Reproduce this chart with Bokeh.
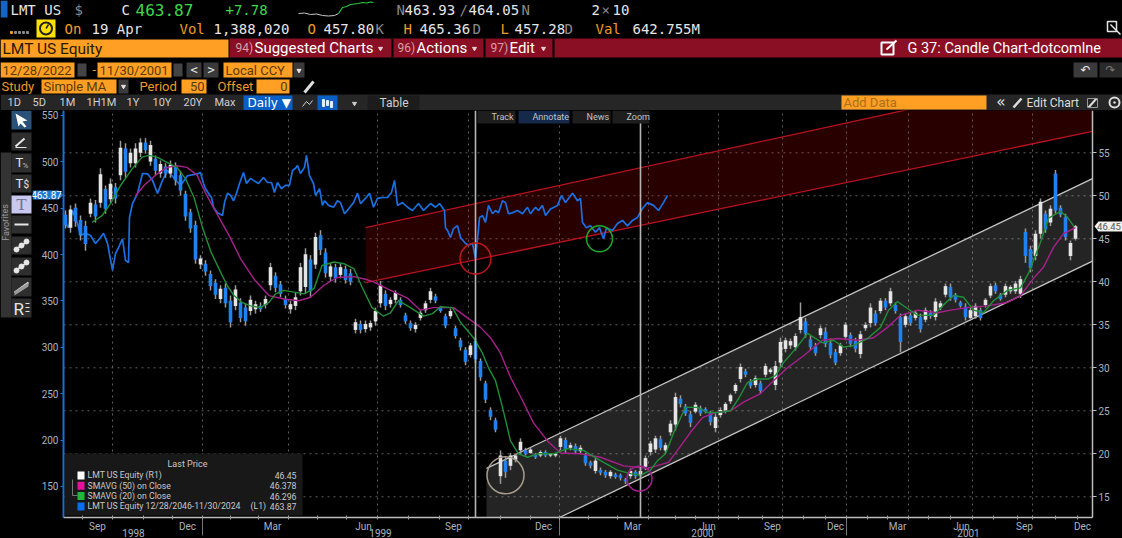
import numpy as np
from bokeh.plotting import figure
from bokeh.layouts import column, row
from bokeh.models import Range1d, LinearAxis, FixedTicker
from bokeh.core.properties import value
from bokeh.embed import file_html
from bokeh.resources import INLINE

# ---------- data ----------
highs = [48.3,48.9,49.1,47.7,47.1,49.7,49.5,53.2,51.2,52.0,
51.5,56.4,56.1,55.5,56.1,56.7,56.7,56.4,54.7,54.1,
53.8,54.1,53.9,52.9,50.6,48.5,47.1,43.1,42.5,41.3,
40.3,39.6,39.8,38.4,39.6,38.1,37.5,38.4,37.8,37.6,
38.4,42.2,41.1,40.1,38.4,37.8,38.7,42.2,43.9,43.1,
45.7,46.0,43.9,42.2,42.1,42.1,41.9,41.5,35.7,35.5,
35.5,35.5,37.0,40.1,39.0,38.2,39.0,38.2,36.4,35.5,
35.3,36.7,37.8,39.3,38.6,37.2,36.3,36.9,34.9,33.5,
32.4,32.9,33.5,31.1,28.5,25.4,24.2,20.4,19.6,20.1,
20.0,21.8,20.7,20.7,20.1,20.4,20.4,20.1,20.1,22.1,
21.9,21.3,21.2,21.0,20.1,19.2,19.5,18.4,18.1,18.1,
17.8,17.7,17.2,18.3,18.1,18.3,19.8,21.5,22.1,22.1,
21.3,23.9,27.1,26.8,25.8,25.0,26.0,25.6,25.4,25.0,
24.7,25.4,26.0,27.0,28.2,30.5,29.9,28.7,29.1,28.5,
30.5,30.0,30.8,33.5,33.5,33.4,34.0,37.6,35.8,33.7,
32.9,34.9,34.7,33.4,32.2,32.9,35.3,34.1,33.5,34.3,
35.3,37.5,36.7,38.1,38.1,39.3,37.6,36.3,36.3,36.4,
36.7,36.3,37.0,36.7,38.1,37.8,39.8,39.8,38.7,37.8,
37.5,37.0,37.5,37.0,38.1,39.8,39.9,38.7,39.8,39.6,
40.1,40.7,46.2,44.2,46.0,49.7,48.3,48.9,53.0,48.9,
47.9,44.8,46.6]
lows = [46.2,45.7,46.4,44.8,43.6,47.5,46.9,48.6,47.9,49.1,
49.1,51.8,52.1,53.3,53.3,54.5,54.9,53.5,52.4,52.1,
52.1,52.1,51.2,50.0,47.1,45.7,42.1,41.5,40.7,39.0,
38.0,37.5,37.0,34.7,36.7,35.3,34.9,36.1,36.3,36.5,
36.9,39.0,38.8,38.2,36.9,36.3,36.7,38.4,38.6,38.2,
41.5,43.1,40.5,40.1,39.9,40.4,39.8,39.6,34.0,34.0,
34.1,34.3,34.9,37.0,36.7,37.0,37.5,37.0,35.1,34.3,
34.1,35.5,36.4,37.5,37.5,36.4,34.6,35.7,33.4,32.0,
30.3,31.2,30.5,28.5,25.9,23.9,22.5,16.5,17.2,18.1,
19.0,20.0,19.8,20.0,19.4,19.6,19.6,19.6,19.6,20.4,
20.1,20.4,20.0,20.0,18.6,18.3,17.7,17.5,17.2,17.1,
17.1,16.9,16.5,17.1,17.1,17.2,18.1,19.8,20.1,20.4,
20.1,22.1,22.7,25.4,24.4,23.1,24.7,24.4,24.7,23.3,
22.5,24.2,24.7,25.8,27.0,28.3,28.9,27.6,27.7,27.0,
28.9,29.3,27.4,30.0,31.8,32.2,32.0,34.0,33.5,32.0,
31.4,33.4,32.4,31.1,30.3,31.4,33.2,32.4,31.8,31.1,
34.3,34.7,34.9,36.3,36.7,37.2,36.3,31.8,34.7,34.9,
35.5,34.1,35.3,35.7,35.5,36.7,38.2,37.8,37.6,37.0,
35.5,35.5,35.7,35.5,37.0,38.1,38.6,37.8,38.2,38.6,
38.6,38.1,42.2,41.1,42.5,45.0,45.7,46.5,47.9,47.5,
44.8,42.5,44.8]
opens = [47.8,46.3,48.6,47.2,46.5,47.9,49.0,49.2,50.8,49.6,
51.0,52.4,55.5,53.8,53.8,55.0,56.2,54.0,54.3,52.6,
53.4,52.6,53.4,52.4,50.2,48.1,46.6,42.0,42.1,40.9,
39.9,38.0,39.3,37.8,37.2,37.6,37.0,36.6,36.8,37.2,
37.3,39.6,40.7,39.7,38.0,36.8,37.2,38.9,39.4,42.6,
42.0,45.4,43.4,40.6,41.7,40.8,41.5,41.0,34.4,35.1,
34.5,34.7,35.4,37.5,38.6,37.4,37.9,37.9,36.1,35.2,
34.5,35.8,36.7,37.9,38.3,37.0,36.0,36.0,34.6,33.2,
32.1,31.5,33.1,30.8,28.2,25.1,23.9,17.4,19.2,18.6,
19.3,20.4,20.4,20.1,19.9,19.8,20.2,19.8,19.8,20.8,
21.6,20.7,20.9,20.3,19.8,19.0,18.0,18.1,17.9,17.4,
17.6,17.5,17.0,17.4,17.9,17.5,18.5,20.2,20.5,21.7,
20.4,22.5,23.4,26.4,25.5,24.6,24.9,25.3,25.2,24.7,
23.0,24.5,25.0,26.1,27.3,28.7,29.6,28.4,28.0,28.2,
29.2,29.5,28.0,30.6,32.2,32.6,32.4,34.4,35.4,33.3,
32.5,33.8,34.2,32.9,31.8,31.7,33.6,33.8,33.1,31.6,
34.6,35.2,36.3,36.6,37.8,37.5,37.3,35.9,35.0,36.1,
35.8,35.9,35.6,36.4,35.9,37.0,38.5,39.4,38.5,37.6,
37.1,35.8,36.0,36.7,37.3,38.4,39.6,38.5,38.5,38.9,
38.9,38.6,45.8,43.8,43.0,45.6,47.9,46.9,52.6,48.6,
47.5,43.0,45.0]
closes = [46.6,48.4,47.0,45.4,44.4,49.2,47.6,52.5,48.5,51.4,
49.7,55.6,52.8,55.0,55.5,56.2,55.3,55.9,52.9,53.7,
52.6,53.6,51.8,50.6,47.6,46.2,42.6,42.7,41.2,39.5,
38.5,39.2,37.5,35.3,39.1,35.8,35.4,37.9,37.4,36.8,
38.0,41.7,39.3,38.6,37.3,37.4,38.2,41.7,43.2,38.9,
45.2,43.7,41.0,41.8,40.4,41.7,40.2,40.0,35.3,34.4,
35.1,35.2,36.6,39.6,37.2,37.9,38.7,37.3,35.4,34.6,
35.0,36.4,37.5,38.9,37.8,36.6,34.9,36.6,33.7,32.4,
30.7,32.6,31.0,28.9,26.3,24.3,22.8,19.8,17.9,19.8,
19.8,21.4,20.0,20.5,19.6,20.2,19.8,20.0,20.0,21.8,
20.5,21.0,20.3,20.7,18.9,18.6,19.2,17.8,17.5,17.9,
17.3,17.2,16.8,18.0,17.4,18.0,19.5,21.2,21.8,20.7,
21.0,23.5,26.6,25.8,24.7,23.6,25.7,24.7,24.9,23.7,
24.3,25.1,25.8,26.8,28.0,30.1,29.2,27.9,28.8,27.3,
30.2,29.8,30.2,33.0,33.2,33.1,33.7,35.9,34.0,32.4,
31.7,34.6,32.8,31.5,30.6,32.6,35.0,32.8,32.2,33.9,
35.0,37.0,35.2,37.8,37.0,38.9,36.6,33.0,36.0,35.2,
36.4,34.5,36.7,36.0,37.7,37.5,39.5,38.2,37.9,37.2,
35.9,36.7,37.2,35.8,37.9,39.5,38.9,38.0,39.5,39.4,
39.8,40.3,43.0,41.6,45.6,49.3,46.1,48.5,48.3,47.8,
45.2,44.5,46.45]

sma20_x = [5.3,7.3,9,11,13.3,15.3,16.7,18.3,20.3,22.3,24,25.7,27.3,29,30.7,32.3,33.7,35.3,37,39,40.7,42,43.7,45.7,47.7,49.7,51.3,53.7,55.7,57.7,59.3,61.3,63.6,65,66.6,69,71.6,73.4,75,77.4,79,81.6,83.4,84.6,86,87.4,89,90.6,92.4,94.4,97.6,100.4,103.6,107,110.4,113,115,117,118.4,120,121.6,124,126.4,128.4,130.4,133,134.6,136.4,138.4,140.6,142,143.6,146,148.4,151.4,153.6,155.6,157.6,160.4,163,164.6,166.4,168.4,170.4,173.6,175.4,177.6,179.6,181.6,183.6,185.6,188.4,191,192.6,195,196.6,199,200.4,201.6]
sma20 = [46.9,47.7,49.1,51.2,53.1,54.5,54.7,54.5,53.9,53.3,52.0,49.8,46.5,43.6,41.5,39.6,38.4,37.6,37.2,37.0,37.6,38.6,39.0,38.8,38.6,39.2,41.9,42.3,42.1,41.5,39.4,37.0,36.0,36.4,37.8,37.0,36.0,36.3,37.1,37.0,35.3,33.5,31.7,30.0,28.5,25.4,21.5,20.0,19.6,20.0,20.0,20.6,20.4,19.2,18.1,17.7,17.5,18.1,19.2,20.0,22.4,25.4,25.4,24.8,24.8,25.0,26.4,28.3,28.7,28.7,29.1,30.6,32.2,34.0,32.9,33.2,32.4,32.6,33.4,34.7,36.7,37.7,36.9,36.1,36.1,37.2,38.4,38.2,36.7,36.4,37.8,39.0,39.3,41.0,44.6,47.4,48.2,47.5,46.5]
sma50_x = [14,15.7,18,20.3,22.3,24.3,26.3,28.3,30.3,32.7,35,37.7,40.7,43.7,46.7,49,51.7,54.3,57.7,60,61.6,65,68.4,71,73.6,77.6,80.4,83,85,87,89,91.4,93.6,96.4,99,103,107,111.6,116.4,120.6,122.4,125,127.4,130,133,135.6,139,141.6,144.4,147.6,151.4,154.4,158.4,161.6,164.4,167,170.4,174.4,177,180.4,184.4,188.4,191,193.6,195.6,197.6,199.6,202]
sma50 = [50.0,51.2,52.4,53.3,53.5,53.3,52.4,50.0,47.9,45.4,42.7,40.3,38.4,38.0,37.8,38.2,39.6,40.5,40.6,40.3,40.0,39.0,38.1,36.7,37.0,37.0,35.8,34.7,33.5,31.7,28.9,26.2,23.6,21.5,20.1,20.0,19.6,18.6,18.3,19.0,20.4,22.5,24.2,24.8,25.0,26.0,27.0,28.5,30.0,31.4,33.2,33.4,33.2,33.5,34.7,36.1,36.7,36.4,36.7,37.0,37.2,37.6,38.4,40.4,41.7,44.0,45.6,46.3]

overlay_x = [-0.4,.6,1.4,2.4,3,4,5,6,7,7.6,8.4,9.4,10,10.6,11.4,12,12.6,12.8,13.4,14.4,15.4,16.4,17.4,18.4,19.4,20.4,21.6,23,24.4,26.4,
27,27.6,28,28.6,29.2,29.6,30.4,31.4,31.8,32.4,
33,33.6,34.2,34.8,35.6,36.2,37,37.6,38.6,39.6,
40.4,41.2,41.8,42.4,43.2,44,44.8,45.4,46,46.4,
47,47.8,48.2,48.8,49.6,50,50.8,51.4,51.8,52.6,
53.6,54.4,55,55.8,56.6,57.6,58.4,59,60,60.8,
61.6,62.4,63.4,64.4,65.2,65.8,66.4,67.4,68.4,69.4,
70.6,71.6,73,74,74.8,75.8,76,76.4,77,77.6,
78.4,79,80,80.6,81.4,82,82.6,82.8,83.4,84,
84.6,85.4,86,86.6,87.4,88,88.6,89.4,90.4,91.4,
92.4,93,94,94.6,95.4,96,97,98.4,99.2,100,
101.4,102.4,103,103.4,104.2,105,106,106.8,107.6,108.2,
109.4,110.4,111.4,112.4,113.4,114.4,115.4,116.4,117.6,118.6,
119.6,120.4]
overlay_price = [437,429,447.5,433.5,420.6,423,420.6,412,418.4,423,412,383,401,407.6,417,393.6,391.5,440,455,466,487.4,487,480,466,480,490.6,483,474.5,485,487,
488.5,476.6,471,466,461.5,451,445,442,456,466,
464,458,466,476.6,488.5,476.6,482,480,476.6,483,
477.7,477.7,467,477.7,471,474.5,474.5,490.6,493,496,
487.4,494,507,485,476.6,463.7,471,453,458,453,
451,458,456,444,449,456,466,455,460.5,466,
451,460.5,461.5,461.5,467,480,453,456,451,447.5,
455,447.5,455,451,455,447.5,429,426,418.4,428,
431,418.4,412,410,412,396,428,440,442,434.6,
453,444,447.5,445,458,456,444,445,447.5,444,
451,444,451,447.5,453,442,449,453,463.7,456,
466,458,460.5,434.6,429,431,424,429,417,429,
426,433.5,436.8,431,436.8,440,449.7,456,453,447.5,
456,463.87]

red_channel_x = [60, 205.4]
red_upper = [46.3, 64.7]
red_lower = [39.9, 57.5]
white_upper_x = [84.2, 205.4]
white_upper = [18.3, 52.0]
white_lower_x = [98.8, 205.4]
white_lower = [12.59, 42.4]
marker_lines = [82, 115]
circle_x = [82, 106.8, 88, 114.8]
circle_y = [42.7, 45.0, 17.5, 17.1]

right_ticks = [15,20,25,30,35,40,45,50,55]
left_ticks = [150,200,250,300,350,400,450,500,550]
month_names = ["Sep","Dec","Mar","Jun","Sep","Dec","Mar","Jun","Sep","Dec","Mar","Jun","Sep","Dec"]
month_pos = [6.4,24.4,41.4,59.6,77.6,95.6,113.4,128.4,141.4,154,166.4,179.2,191.8,203.4]
quarter_pos = [9.4,27.4,44.6,62.4,80.6,98.8,116.6,130.6,143.4,156.2,168.6,181.4,193.4]
minor_pos = [3.4,15.6,21.4,33,38.6,50.4,56.2,68.6,74.8,87,93,104.6,110.4,122,126,134.6,139.4,147.6,152,160.4,164.4,172.6,177,185.6,190.4,198,202.4]
year_sep = [27.4,98.8,156.2]
year_names = ["1998","1999","2000","2001"]
year_pos = [13.6,63,127.4,180.6]

legend_names = ["LMT US Equity  (R1)","SMAVG (50)  on Close","SMAVG (20)  on Close","LMT US Equity 12/28/2046-11/30/2024"]
legend_values = ["46.45","46.378","46.296","463.87"]

spark_white_x = [298,304,310,316,322,328,334,338]
spark_white_y = [13,12.5,14,13.5,15,15.5,15,13]
spark_green_x = [338,342,346,350,354,358,362,366,370,373]
spark_green_y = [13,7,6,4,3.5,3,2,2.5,1.5,2]

# ---------- colours ----------
BG = "#000000"; ORANGE = "#ff9f24"; RED = "#8a0f24"; GRAY = "#8a8a8a"; WHITE = "#e6e6e6"
OTXT = "#f09a28"; BLUE = "#1e82f0"; BAR = "#262626"; DARKT = "#5a3a04"
MONO = "DejaVu Sans Mono"; SANS = "Roboto"
PAGE = {"background-color": "#000000"}

def chrome(w, h, xr, yr):
    f = figure(width=w, height=h, x_range=xr, y_range=yr, x_axis_type=None, y_axis_type=None,
               output_backend="svg", toolbar_location=None, min_border=0, styles=PAGE,
               background_fill_color=BG, border_fill_color=BG, outline_line_color=None)
    f.grid.visible = False
    return f

def box(f, x0, y0, x1, y1, c):
    f.quad(left=[x0], right=[x1], top=[y0], bottom=[y1], fill_color=c, line_color=None)

def txt(f, x, y, s, c=WHITE, size=14, font=SANS, align="left", **kw):
    f.text(x=[x], y=[y], text=[s], text_color=c, text_font_size=f"{size}px", text_font=value(font),
           text_align=align, text_baseline="middle", **kw)

# ---------- header ----------
h = chrome(1122, 110, Range1d(0, 1122), Range1d(110, 0))
R1 = 9; R2 = 28
box(h, 0, 0, 7, 17, "#1464c8")
for x, s, c, sz in [(10,"LMT US",WHITE,14),(74,"$",GRAY,14),(121,"C",WHITE,14),(135,"463.87","#3dd84a",16),
                    (225,"+7.78","#3dd84a",14),(396,"N",GRAY,14),(404,"463.93",WHITE,14),(459,"/",GRAY,14),
                    (468,"464.05",WHITE,14),(521,"N",GRAY,14),(591,"2",WHITE,14),(601,"×",GRAY,14),(612,"10",WHITE,14)]:
    txt(h, x, R1, s, c, sz, MONO)
h.line(spark_white_x, spark_white_y, line_color="#c8c8c8", line_width=1)
h.line(spark_green_x, spark_green_y, line_color="#2fc83c", line_width=1.2)
box(h, 36, 19, 55, 37, "#ffe000")
h.scatter([45.5],[28],marker="circle",size=12,fill_color="#ffe000",line_color="#222",line_width=2)
h.segment([45.5],[28],[48],[24],line_color="#222",line_width=1.5)
h.scatter([11,15,19,23,27],[32]*5,marker="square",size=2,color=[OTXT,GRAY,GRAY,GRAY,GRAY])
for x, s, c in [(64,"On",OTXT),(91,"19 Apr",WHITE),(179,"Vol",OTXT),(213,"1,388,020",WHITE),(307,"O",OTXT),
                (323,"457.80",WHITE),(375,"K",GRAY),(403,"H",OTXT),(419,"465.36",WHITE),(472,"D",GRAY),
                (500,"L",OTXT),(514,"457.28",WHITE),(564,"D",GRAY),(595,"Val",OTXT),(632,"642.755M",WHITE)]:
    txt(h, x, R2, s, c, 14, MONO)
h.quad(left=[1107],right=[1116],top=[21],bottom=[31],fill_color=None,line_color=WHITE,line_width=1.5)
h.segment([1110],[24],[1120],[34],line_color=WHITE,line_width=1.5)

# row 3
box(h, 0, 39, 228, 57, ORANGE)
txt(h, 2, 48, "LMT US Equity", "#2a1800", 15.5)
box(h, 229, 38, 1122, 57, RED)
for x in [391, 483, 552]:
    box(h, x, 38, x+2, 57, BG)
for x, s in [(235,"94)"),(397,"96)"),(490,"97)")]:
    txt(h, x, 47.5, s, "#d8a0a8", 12)
for x, s in [(254,"Suggested Charts"),(416,"Actions"),(509,"Edit")]:
    txt(h, x, 47.5, s, "#ffffff", 15)
txt(h, 907, 47.5, "G 37: Candle Chart-dotcomlne", "#ffffff", 14.5)
h.scatter([380,474,543],[48,48,48],marker="inverted_triangle",size=4,color="#e8d0d0")
h.quad(left=[881],right=[893],top=[42],bottom=[54],fill_color=None,line_color="#ffffff",line_width=2)
h.segment([886],[49],[896],[40],line_color="#ffffff",line_width=2)

# row 4
box(h, 0, 62, 74, 77, ORANGE); txt(h, 2, 69.5, "12/28/2022", DARKT, 13)
box(h, 97, 62, 171, 77, ORANGE); txt(h, 99, 69.5, "11/30/2001", DARKT, 13)
for x0, x1 in [(77,86),(173,182)]:
    box(h, x0, 63, x1, 76, "#444444")
txt(h, 92, 69, "-", OTXT, 13)
box(h, 186, 62, 201, 77, "#3a3a3a"); txt(h, 193.5, 69.5, "<", WHITE, 12, MONO, "center")
box(h, 203, 62, 218, 77, "#3a3a3a"); txt(h, 210.5, 69.5, ">", WHITE, 12, MONO, "center")
box(h, 223, 62, 292, 77, ORANGE); txt(h, 225, 69.5, "Local CCY", DARKT, 13)
box(h, 293, 62, 304, 77, "#3a3a3a")
h.scatter([298.5],[70],marker="inverted_triangle",size=4,color=WHITE)
box(h, 1073, 62, 1097, 77, "#3a3a3a"); txt(h, 1085, 69.5, "↶", WHITE, 12, "DejaVu Sans", "center")
box(h, 1099, 62, 1122, 77, "#2a2a2a"); txt(h, 1110, 69.5, "↷", "#777777", 12, "DejaVu Sans", "center")

# row 5
txt(h, 1, 86, "Study", OTXT, 13)
box(h, 41, 79, 116, 93, ORANGE); txt(h, 43, 86, "Simple MA", DARKT, 13)
box(h, 118, 79, 128, 93, "#3a3a3a"); h.scatter([123],[86],marker="inverted_triangle",size=4,color=WHITE)
txt(h, 139, 86, "Period", OTXT, 13)
box(h, 181, 79, 206, 93, ORANGE); txt(h, 204, 86, "50", DARKT, 13, SANS, "right")
txt(h, 217, 86, "Offset", OTXT, 13)
box(h, 256, 79, 289, 93, ORANGE); txt(h, 287, 86, "0", DARKT, 13, SANS, "right")
h.segment([304],[92],[313],[81],line_color="#dddddd",line_width=3)

# row 6
box(h, 0, 94, 1122, 110, BAR)
for x, s in [(7,"1D"),(32,"5D"),(59,"1M"),(86,"1H1M"),(126,"1Y"),(152,"10Y"),(183,"20Y"),(214,"Max")]:
    txt(h, x, 102, s, "#cfcfcf", 11)
box(h, 243, 95, 292, 110, "#0a5fc4"); txt(h, 247, 102, "Daily ▼", "#ffffff", 12, "DejaVu Sans")
box(h, 317, 95, 337, 110, "#0a5fc4")
h.line([302,306,309,312],[106,101,104,100],line_color="#cfcfcf",line_width=1)
h.vbar(x=[323,327,331],width=2,top=[99,100,101],bottom=[106,105,107],color="#dfefff")
h.scatter([354],[103],marker="inverted_triangle",size=4,color="#cfcfcf")
box(h, 367, 95, 419, 110, "#1c1c1c"); txt(h, 379, 102, "Table", "#cfcfcf", 12)
box(h, 841, 95, 986, 109, ORANGE); txt(h, 843, 102, "Add Data", "#a8701a", 13)
txt(h, 996, 101, "«", WHITE, 15, MONO)
h.segment([1013],[107],[1021],[98],line_color="#dddddd",line_width=2.5)
txt(h, 1026, 102, "Edit Chart", "#dddddd", 12)
h.segment([1088],[107],[1096],[98],line_color="#dddddd",line_width=2)
h.quad(left=[1087],right=[1097],top=[98],bottom=[107],fill_color=None,line_color="#999999")
h.scatter([1114],[102],marker="circle_dot",size=10,fill_color=None,line_color="#dddddd",line_width=2)

# ---------- left toolbar ----------
l = chrome(32, 428, Range1d(0, 32), Range1d(538, 110))
box(l, 0, 152, 11, 317, "#333333")
l.text(x=[5],y=[222],text=["Favorites"],angle=[1.5708],text_color="#999999",text_font_size="9px",
       text_font=value(SANS),text_align="center",text_baseline="middle")
for i,(y0,y1) in enumerate([(110,129),(132,150),(153,172),(174,192),(195,213),(215,233),(236,254),(257,275),(277,296),(298,317)]):
    box(l, 11, y0, 31, y1, "#2a5278" if i==0 else ("#c8c8f0" if i==4 else "#2e2e2e"))
l.patch([15,27,22,26,24,20,18],[113,120,121,126,127,123,126],fill_color="#ffffff",line_color=None)
l.segment([15],[146],[24],[138],line_color=WHITE,line_width=2)
l.segment([15],[147],[26],[147],line_color=WHITE,line_width=1)
txt(l, 15, 162, "T", WHITE, 13, SANS, "left"); txt(l, 22, 165, "%", "#bbbbbb", 8, SANS)
txt(l, 15, 183, "T", WHITE, 13, SANS, "left"); txt(l, 23, 184, "$", WHITE, 10, SANS)
txt(l, 21, 204, "T", "#707090", 17, "Liberation Serif", "center")
l.segment([14],[224],[28],[224],line_color=WHITE,line_width=2)
for y0,y1 in [(250,240),(271,261),(292,282)]:
    l.segment([14],[y0],[28],[y1],line_color=WHITE,line_width=2)
l.scatter([16,26,21,16,26,21],[249,241,245,270,262,266],marker="circle",size=5,color=WHITE)
l.patch([14,28,28,14],[291,282,286,295],fill_color="#999999",line_color=None)
txt(l, 13, 308, "R", WHITE, 17, SANS, "left")
for y in [303,307,311]:
    l.segment([25],[y],[29],[y],line_color=WHITE,line_width=1)

# ---------- chart: the frame fills the whole region; axes sit at fixed locations inside it ----------
X0, X1 = -0.4, 205.4          # plot-area limits in sessions
Y0, Y1 = 12.59, 59.92         # plot-area limits on the right-hand price scale
p = figure(width=1090, height=428, x_range=Range1d(-6.6, 211.4), y_range=Range1d(10.15, 59.92),
           extra_y_ranges={"L1": Range1d(93.9, 555.3)}, y_axis_location="right",
           output_backend="svg", toolbar_location=None, styles=PAGE,
           min_border=0, background_fill_color=BG, border_fill_color=BG, outline_line_color=None)
p.grid.visible = False

GRID = "#5e5e5e"
p.segment(quarter_pos, [Y0]*len(quarter_pos), quarter_pos, [Y1]*len(quarter_pos),
          line_color=GRID, line_dash="dotted", line_width=1)
p.segment([X0]*len(right_ticks), right_ticks, [X1]*len(right_ticks), right_ticks,
          line_color=GRID, line_dash="dotted", line_width=1)

xa = p.xaxis[0]
xa.fixed_location = Y0; xa.bounds = (X0, X1)
xa.ticker = FixedTicker(ticks=month_pos, minor_ticks=minor_pos + quarter_pos)
xa.major_label_overrides = {float(t): n for t, n in zip(month_pos, month_names)}
xa.major_tick_in = 0; xa.major_tick_out = 0; xa.minor_tick_in = 2; xa.minor_tick_out = 2
xa.minor_tick_line_color = "#9a9a9a"; xa.axis_line_color = "#bdbdbd"; xa.axis_line_width = 1.5
xa.major_label_text_color = "#a9b4c0"; xa.major_label_text_font_size = "10px"; xa.major_label_standoff = 1
xa.major_label_text_font = SANS

ya = p.yaxis[0]
ya.fixed_location = X1; ya.bounds = (Y0, Y1)
ya.ticker = FixedTicker(ticks=right_ticks)
ya.axis_line_color = "#bdbdbd"; ya.axis_line_width = 1.5
ya.major_tick_line_color = "#bdbdbd"; ya.major_tick_in = 0; ya.major_tick_out = 4
ya.minor_tick_line_color = None
ya.major_label_text_color = "#a9b4c0"; ya.major_label_text_font_size = "10px"; ya.major_label_standoff = 2
ya.major_label_text_font = SANS

yl = LinearAxis(y_range_name="L1", ticker=FixedTicker(ticks=left_ticks), fixed_location=X0, bounds=(116.6, 555.3))
yl.axis_line_color = "#1a6fd0"; yl.axis_line_width = 1.5
yl.major_tick_line_color = "#1a78e0"; yl.major_tick_in = 0; yl.major_tick_out = 3
yl.minor_tick_line_color = None
yl.major_label_text_color = "#a9b4c0"; yl.major_label_text_font_size = "10px"; yl.major_label_standoff = 2
yl.major_label_text_font = SANS
p.add_layout(yl, "left")
p.segment([X0], [Y0], [X0], [Y1], line_color="#1a78e0", line_width=1.6)

# channels
p.patch(red_channel_x + red_channel_x[::-1], red_upper + red_lower[::-1], fill_color="#ff0000", fill_alpha=0.16, line_color=None)
p.line(red_channel_x, red_upper, line_color="#b8121c", line_width=1.3)
p.line(red_channel_x, red_lower, line_color="#b8121c", line_width=1.3)
p.patch(white_upper_x + white_lower_x[::-1] + white_upper_x[:1], white_upper + white_lower[::-1] + white_lower[:1],
        fill_color="#ffffff", fill_alpha=0.14, line_color=None)
p.line(white_upper_x, white_upper, line_color="#c4c4c4", line_width=1.3)
p.line(white_lower_x, white_lower, line_color="#c4c4c4", line_width=1.3)

# overlay price series
p.line(overlay_x, overlay_price, y_range_name="L1", line_color="#1a70e0", line_width=1.7)

# candles
cx = np.arange(len(closes))
H, L, O, C = map(np.array, (highs, lows, opens, closes))
p.segment(cx, L, cx, H, line_color="#9a9a9a", line_width=1.5)
up = C >= O
p.vbar(x=cx[up], width=0.72, bottom=O[up], top=C[up], fill_color="#e4e4e4", line_color=None)
p.vbar(x=cx[~up], width=0.72, bottom=C[~up], top=O[~up], fill_color=BLUE, line_color=None)

# averages
p.line(sma50_x, sma50, line_color="#a8208c", line_width=1.4)
p.line(sma20_x, sma20, line_color="#1f8f38", line_width=1.4)

p.segment(marker_lines, [Y0]*2, marker_lines, [Y1]*2, line_color="#b4b4b4", line_width=1.6)

p.scatter(circle_x, circle_y, marker="circle", size=[31, 26, 37, 25], fill_color=None,
          line_color=["#c01818", "#1fa82c", "#a89c8c", "#a0208c"], line_width=1.5)

# placement helpers for chart furniture given as page pixels
fx = lambda px: (px - 65) / 5
fy = lambda py: 72.71 - py / 8.6

# legend
box(p, fx(64), fy(453), fx(302), fy(515), "#181818")
txt(p, fx(167), fy(464), "Last Price", "#c8c8c8", 9)
swatch = ["#ffffff", "#e8109c", "#1fb83c", "#0a6ef0"]
for i, (n, v, c) in enumerate(zip(legend_names, legend_values, swatch)):
    yy = 475 + i * 10.3
    box(p, fx(77), fy(yy - 4), fx(84), fy(yy + 4), c)
    txt(p, fx(87), fy(yy), n, "#c8c8c8", 8.7)
    txt(p, fx(296), fy(yy), v, "#c8c8c8", 8.7, SANS, "right")
txt(p, fx(250), fy(475 + 3 * 10.3), "(L1)", "#c8c8c8", 8.7)
p.line([fx(72), fx(72), fx(77)], [fy(479), fy(495), fy(495)], line_color="#777777", line_width=1)

# overlay buttons
for x0, x1, s, c in [(477,515,"Track","#1e1e1e"),(518,569,"Annotate","#15294a"),(572,610,"News","#1e1e1e"),(612,649,"Zoom","#1e1e1e")]:
    box(p, fx(x0), fy(110), fx(x1), fy(123), c)
    txt(p, fx(x0 + 14), fy(116.5), s, "#c4c4c4", 9)

# year labels, separators and price tags
p.segment(year_sep, [fy(518)]*3, year_sep, [fy(535)]*3, line_color="#777777", line_width=1)
for n, x in zip(year_names, year_pos):
    txt(p, x, fy(533), n, "#a9b4c0", 10, SANS, "center")

p.patch([fx(32), fx(58), fx(63), fx(58), fx(32)], [fy(190), fy(190), fy(194.6), fy(199), fy(199)],
        fill_color="#1f78d2", line_color=None)
txt(p, fx(46), 463.87, "463.87", "#ffffff", 10, SANS, "center", y_range_name="L1")
p.patch([fx(1094), fx(1098), fx(1122), fx(1122), fx(1098)], [fy(225.8), fy(221), fy(221), fy(231), fy(231)],
        fill_color="#f2f2f2", line_color=None)
txt(p, fx(1108.5), 46.45, "46.45", "#555555", 9.5, SANS, "center")

page = column(h, row(l, p, spacing=0, styles=PAGE), spacing=0, styles=PAGE)
open("out.html", "w").write(file_html(page, INLINE))
